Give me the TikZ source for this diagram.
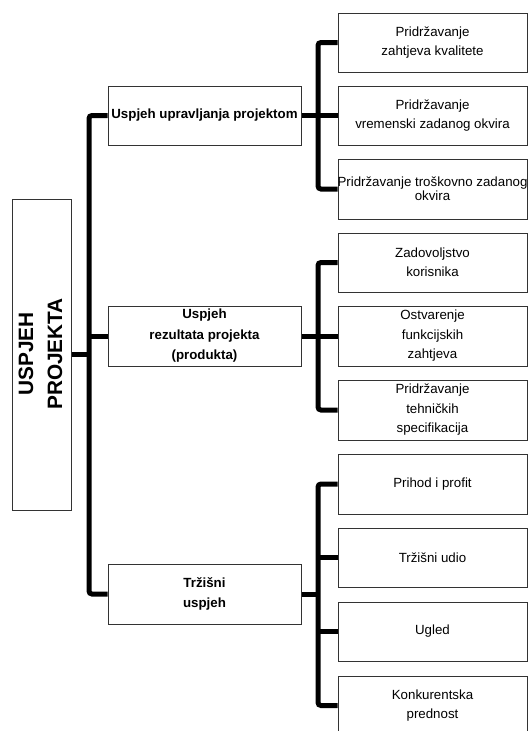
\documentclass[tikz,border=0pt]{standalone}
\usepackage{fontspec}
\setmainfont{Liberation Sans}
\begin{document}
\begin{tikzpicture}[x=1pt,y=-1pt,
  box/.style={draw=black!80, line width=1pt, rectangle, inner sep=0pt, align=center, font=\fontsize{13.3}{19}\selectfont},
  rbox/.style={box, minimum width=189pt, minimum height=59pt},
  mbox/.style={box, minimum width=193pt, minimum height=59pt, font=\fontsize{13.3}{20.5}\selectfont\bfseries},
  conn/.style={line width=5pt, rounded corners=3pt, line cap=butt}]
\useasboundingbox (0,0) rectangle (528,731);
\begin{scope}
\clip (0,0) rectangle (528,731);
% root
\node[box, minimum width=59pt, minimum height=311pt] (root) at (41.5,354.5) {};
\node[font=\fontsize{20.8}{29}\selectfont\bfseries, rotate=90, align=center, inner sep=0pt] (rootlabel) at (40.5,354) {USPJEH\\PROJEKTA};
% middle
\node[mbox] (m1) at (204.5,115.5) {Uspjeh upravljanja projektom};
\node[mbox, minimum height=60pt] (m2) at (204.5,336) {Uspjeh\\rezultata projekta\\(produkta)};
\node[mbox, minimum height=60pt] (m3) at (204.5,594) {Tržišni\\uspjeh};
% right
\node[rbox] (b1) at (432.5,42.5) {Pridržavanje\\zahtjeva kvalitete};
\node[rbox] (b2) at (432.5,115.5) {Pridržavanje\\vremenski zadanog okvira};
\node[rbox, minimum height=60pt] (b3) at (432.5,189) {\makebox[0pt]{Pridržavanje troškovno zadanog}\\[-5pt]okvira};
\node[rbox] (b4) at (432.5,262.5) {Zadovoljstvo\\korisnika};
\node[rbox, minimum height=60pt, font=\fontsize{13.3}{19.5}\selectfont] (b5) at (432.5,336) {Ostvarenje\\funkcijskih\\zahtjeva};
\node[rbox, minimum height=60pt, font=\fontsize{13.3}{19.5}\selectfont] (b6) at (432.5,410) {Pridržavanje\\tehničkih\\specifikacija};
\node[rbox, minimum height=60pt] (b7) at (432.5,484) {Prihod i profit};
\node[rbox] (b8) at (432.5,557.5) {Tržišni udio};
\node[rbox] (b9) at (432.5,631.5) {Ugled};
\node[rbox] (b10) at (432.5,705.5) {Konkurentska\\prednost};
% trunk
\coordinate (t) at (89,0);
\coordinate (br) at (318,0);
\draw[conn] (root.east) -- (root.east -| t);
\draw[conn] (m1.west) -- (m1.west -| t) |- (m3.west);
\draw[conn] (m2.west) -- (m2.west -| t);
% group 1
\draw[conn] (b1.west) -- (b1.west -| br) |- (b3.west);
\draw[conn] (m1.east) -- (b2.west);
% group 2
\draw[conn] (b4.west) -- (b4.west -| br) |- (b6.west);
\draw[conn] (m2.east) -- (b5.west);
% group 3
\draw[conn] (b7.west) -- (b7.west -| br) |- (b10.west);
\draw[conn] (b8.west) -- (b8.west -| br);
\draw[conn] (b9.west) -- (b9.west -| br);
\draw[conn] (m3.east) -- (m3.east -| br);
\end{scope}
\end{tikzpicture}
\end{document}
